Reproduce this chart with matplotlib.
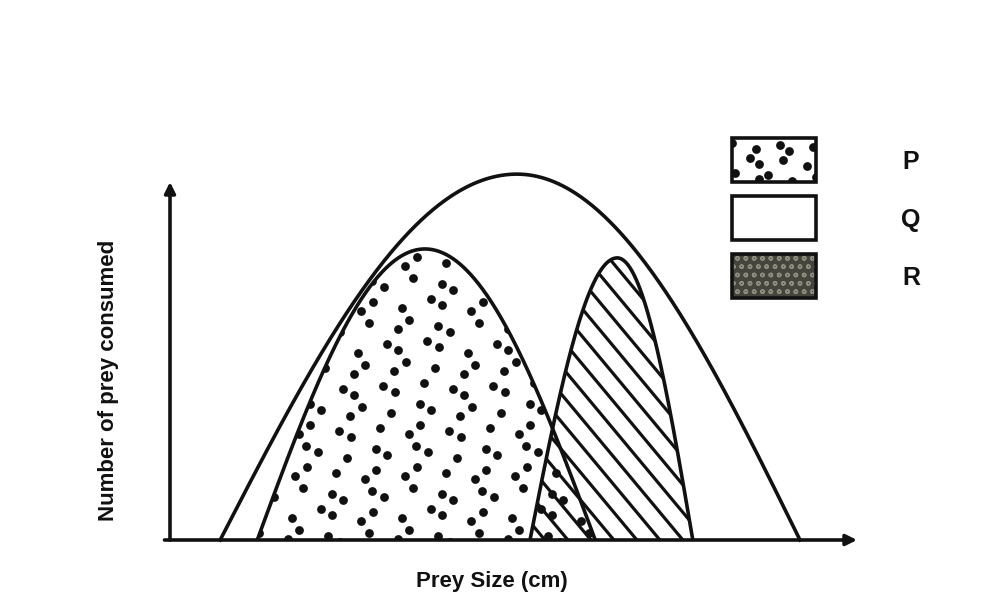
"""Prey size vs number of prey consumed for three predators P, Q and R."""

import matplotlib

matplotlib.use("Agg")
import matplotlib.patches as mpatches
import matplotlib.pyplot as plt
import numpy as np

plt.rcParams["font.family"] = ["Liberation Sans", "DejaVu Sans"]

# consumption curve of each predator: where it starts, peaks and ends (cm),
# and how many prey are eaten at the peak (arbitrary units)
SPECIES = ["P", "Q", "R"]
SIZE_START = [1.27, 0.73, 5.24]
SIZE_PEAK = [3.71, 5.05, 6.51]
SIZE_END = [6.19, 9.17, 7.61]
PEAK_COUNT = [8.13, 10.22, 7.88]

X_LABEL = "Prey Size (cm)"
Y_LABEL = "Number of prey consumed"

W, H = 989, 604
LW = 2.6
INK = "#111111"


def hump(i, n=200):
    # half cosine on each side of the peak, so each side can have its own width
    x0, xp, x1, h = SIZE_START[i], SIZE_PEAK[i], SIZE_END[i], PEAK_COUNT[i]
    xl = np.linspace(x0, xp, n)
    xr = np.linspace(xp, x1, n)[1:]
    yl = h * np.cos(np.pi / 2 * (xp - xl) / (xp - x0))
    yr = h * np.cos(np.pi / 2 * (xr - xp) / (x1 - xp))
    return np.concatenate([xl, xr]), np.clip(np.concatenate([yl, yr]), 0, None)


def dot_grid(x0, x1, y0, y1, dx, dy):
    # staggered, slightly uneven stipple texture
    pts = []
    for j, y in enumerate(np.arange(y0, y1, dy)):
        for i, x in enumerate(np.arange(x0 + (j % 2) * dx / 2, x1, dx)):
            jx = ((i * 7 + j * 3) % 5 - 2) * 0.16 * dx
            jy = ((i * 3 + j * 5) % 5 - 2) * 0.14 * dy
            pts.append((x + jx, y + jy))
    return np.array(pts)


fig = plt.figure(figsize=(W / 100, H / 100), dpi=100)
fig.patch.set_facecolor("white")

ax = fig.add_axes([170 / W, (H - 540) / H, 687 / W, 358 / H])
ax.set_xlim(0, 10)
ax.set_ylim(0, 10)
ax.axis("off")

curves = {s: hump(i) for i, s in enumerate(SPECIES)}

# Q -- plain white area, widest range of prey sizes
qx, qy = curves["Q"]
ax.plot(qx, qy, color=INK, lw=LW, clip_on=False, zorder=2)

# P -- stippled
px, py = curves["P"]
p_patch = mpatches.Polygon(np.column_stack([px, py]), closed=True,
                           facecolor="none", edgecolor="none")
ax.add_patch(p_patch)
dots = dot_grid(SIZE_START[0] - 0.3, SIZE_END[0] + 0.3, 0.12,
                PEAK_COUNT[0] + 0.5, 22 / 68.7, 21 / 35.8)
sc = ax.scatter(dots[:, 0], dots[:, 1], s=40, color=INK, linewidths=0,
                zorder=3)
sc.set_clip_path(p_patch)
ax.plot(px, py, color=INK, lw=LW, zorder=5)

# R -- diagonal hatching
rx, ry = curves["R"]
r_patch = mpatches.Polygon(np.column_stack([rx, ry]), closed=True,
                           facecolor="none", edgecolor="none")
ax.add_patch(r_patch)
slope = -1.2 * (68.7 / 35.8)
step = (23 / 68.7) * -slope
for c in np.arange(0.5, 30, step):
    hx = np.array([SIZE_START[2] - 1, SIZE_END[2] + 1])
    hy = c + slope * (hx - SIZE_START[2])
    (ln,) = ax.plot(hx, hy, color=INK, lw=2.3, zorder=4)
    ln.set_clip_path(r_patch)
ax.plot(rx, ry, color=INK, lw=LW, zorder=5)

# axes with arrow heads
arrow = dict(arrowstyle="-|>", lw=2.6, color=INK, mutation_scale=16,
             shrinkA=0, shrinkB=0)
ax.annotate("", xy=(1.0, 0.0), xytext=(-0.008, 0.0),
            xycoords="axes fraction", arrowprops=arrow, zorder=6)
ax.annotate("", xy=(0.0, 1.0), xytext=(0.0, 0.0),
            xycoords="axes fraction", arrowprops=arrow, zorder=6)

# overlay in pixel units for the key and axis titles
lay = fig.add_axes([0, 0, 1, 1])
lay.set_xlim(0, W)
lay.set_ylim(H, 0)
lay.axis("off")
lay.patch.set_alpha(0)

box_w, box_h = 84, 44
box_tops = [138, 196, 254]
for s, top in zip(SPECIES, box_tops):
    if s == "R":
        lay.add_patch(mpatches.Rectangle((732, top), box_w, box_h,
                                         facecolor="#45453d", edgecolor="none"))
        lay.add_patch(mpatches.Rectangle((732, top), box_w, box_h, fill=False,
                                         hatch="oo", edgecolor="#8e8e80",
                                         lw=0))
    frame = mpatches.Rectangle((732, top), box_w, box_h, facecolor="none",
                               edgecolor=INK, lw=LW, zorder=4)
    lay.add_patch(frame)
    if s == "P":
        kd = dot_grid(738, 816, top + 9, top + box_h, 18, 15)
        ksc = lay.scatter(kd[:, 0], kd[:, 1], s=40, color=INK, linewidths=0)
        ksc.set_clip_path(frame)
    lay.text(911, top + box_h / 2 + 2, s, fontsize=18, fontweight="bold",
             ha="center", va="center", color=INK)

lay.text(492, 581, X_LABEL, fontsize=16, fontweight="bold",
         ha="center", va="center", color=INK)
lay.text(109, 380, Y_LABEL, fontsize=16, fontweight="bold", rotation=90,
         ha="center", va="center", color=INK)

fig.savefig("out.png", dpi=100, facecolor="white")
